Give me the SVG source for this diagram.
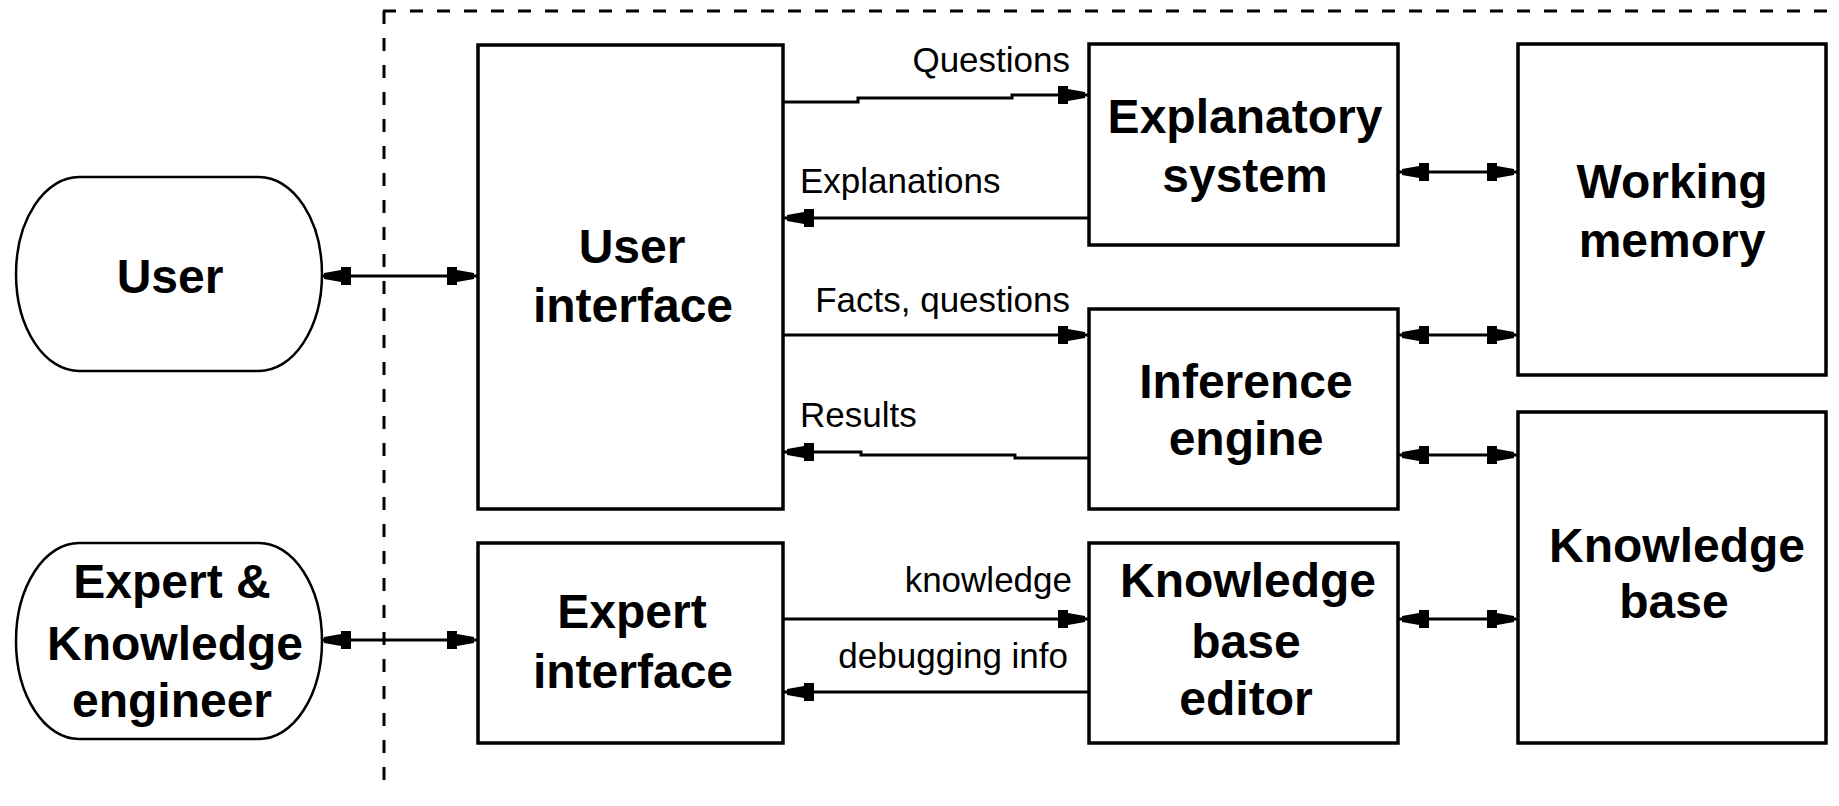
<svg xmlns="http://www.w3.org/2000/svg" width="1839" height="806" viewBox="0 0 1839 806">
<style>
.box{fill:#fff;stroke:#000;stroke-width:3.5}
.term{fill:#fff;stroke:#000;stroke-width:2.5}
.big{font-family:"Liberation Sans",Arial,sans-serif;font-weight:bold;font-size:48px;text-anchor:middle;fill:#000}
.lbl{font-family:"Liberation Sans",Arial,sans-serif;font-size:35px;fill:#000}
.conn{fill:none;stroke:#000;stroke-width:3}
.dash{fill:none;stroke:#000;stroke-width:3;stroke-dasharray:13 14}
</style>
<defs>
<marker id="ah" markerUnits="userSpaceOnUse" markerWidth="34" markerHeight="22" viewBox="-32 -11 34 22" refX="0" refY="0" orient="auto-start-reverse">
<polygon points="-31,-9 -21,-9 -21,-6 -4,-3 -4,3 -21,6 -21,9 -31,9" fill="#000"/>
</marker>
</defs>
<g id="boundary">
<path class="dash" d="M383,11 H1839"/>
<path class="dash" d="M384,11 V792"/>
</g>
<g id="connectors">
<path class="conn" d="M320,276 H478" marker-start="url(#ah)" marker-end="url(#ah)"/>
<path class="conn" d="M320,640 H478" marker-start="url(#ah)" marker-end="url(#ah)"/>
<path class="conn" d="M783,102 H858 V98 H1012 V95 H1089" marker-end="url(#ah)"/>
<path class="conn" d="M1089,218 H783" marker-end="url(#ah)"/>
<path class="conn" d="M783,335 H1089" marker-end="url(#ah)"/>
<path class="conn" d="M1089,458 H1015 V455 H861 V452 H783" marker-end="url(#ah)"/>
<path class="conn" d="M783,619 H1089" marker-end="url(#ah)"/>
<path class="conn" d="M1089,692 H783" marker-end="url(#ah)"/>
<path class="conn" d="M1398,172 H1518" marker-start="url(#ah)" marker-end="url(#ah)"/>
<path class="conn" d="M1398,335 H1518" marker-start="url(#ah)" marker-end="url(#ah)"/>
<path class="conn" d="M1398,455 H1518" marker-start="url(#ah)" marker-end="url(#ah)"/>
<path class="conn" d="M1398,619 H1518" marker-start="url(#ah)" marker-end="url(#ah)"/>
<text class="lbl" x="1070" y="72" text-anchor="end">Questions</text>
<text class="lbl" x="800" y="193">Explanations</text>
<text class="lbl" x="1070" y="312" text-anchor="end">Facts, questions</text>
<text class="lbl" x="800" y="427">Results</text>
<text class="lbl" x="1072" y="592" text-anchor="end">knowledge</text>
<text class="lbl" x="1068" y="668" text-anchor="end">debugging info</text>
</g>
<g id="user">
<path class="term" d="M79,177 H259 A63,97 0 0 1 259,371 H79 A63,97 0 0 1 79,177 Z"/>
<text class="big" x="170" y="293">User</text>
</g>
<g id="expert">
<path class="term" d="M79,543 H259 A63,98 0 0 1 259,739 H79 A63,98 0 0 1 79,543 Z"/>
<text class="big" x="172" y="598">Expert &amp;</text>
<text class="big" x="175" y="660">Knowledge</text>
<text class="big" x="172" y="717">engineer</text>
</g>
<g id="user-interface">
<rect class="box" x="478" y="45" width="305" height="464"/>
<text class="big" x="632" y="263">User</text>
<text class="big" x="633" y="322">interface</text>
</g>
<g id="expert-interface">
<rect class="box" x="478" y="543" width="305" height="200"/>
<text class="big" x="632" y="628">Expert</text>
<text class="big" x="633" y="688">interface</text>
</g>
<g id="explanatory-system">
<rect class="box" x="1089" y="44" width="309" height="201"/>
<text class="big" x="1245" y="133">Explanatory</text>
<text class="big" x="1245" y="192">system</text>
</g>
<g id="inference-engine">
<rect class="box" x="1089" y="309" width="309" height="200"/>
<text class="big" x="1246" y="398">Inference</text>
<text class="big" x="1246" y="455">engine</text>
</g>
<g id="kb-editor">
<rect class="box" x="1089" y="543" width="309" height="200"/>
<text class="big" x="1248" y="597">Knowledge</text>
<text class="big" x="1246" y="658">base</text>
<text class="big" x="1246" y="715">editor</text>
</g>
<g id="working-memory">
<rect class="box" x="1518" y="44" width="308" height="331"/>
<text class="big" x="1672" y="198">Working</text>
<text class="big" x="1672" y="257">memory</text>
</g>
<g id="knowledge-base">
<rect class="box" x="1518" y="412" width="308" height="331"/>
<text class="big" x="1677" y="562">Knowledge</text>
<text class="big" x="1674" y="618">base</text>
</g>
</svg>
